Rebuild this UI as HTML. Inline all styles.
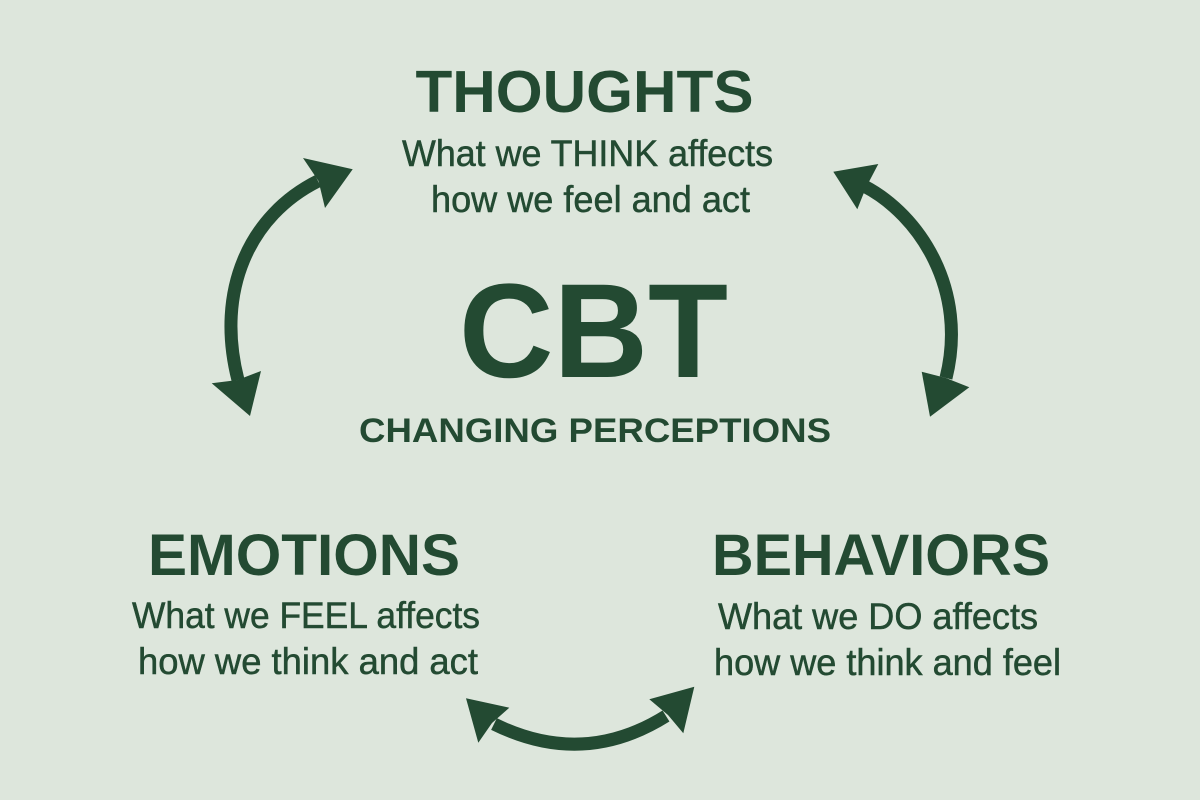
<!DOCTYPE html>
<html>
<head>
<meta charset="utf-8">
<style>
  html, body { margin:0; padding:0; background:#dde6dc; }
  body { width:1200px; height:800px; overflow:hidden; }
  svg { display:block; }
  .b { font-family:"Liberation Sans", Arial, sans-serif; font-weight:bold; fill:#234a32; }
  .r { font-family:"Liberation Sans", Arial, sans-serif; font-weight:normal; fill:#234a32; stroke:#234a32; stroke-width:0.5; }
</style>
</head>
<body>
<svg width="1200" height="800" viewBox="0 0 1200 800" xmlns="http://www.w3.org/2000/svg">
  <rect width="1200" height="800" fill="#dde6dc"/>

  <!-- THOUGHTS -->
  <text class="b" x="415.5" y="112" font-size="59" textLength="338" lengthAdjust="spacingAndGlyphs">THOUGHTS</text>
  <text class="r" x="402" y="166" font-size="37" textLength="371" lengthAdjust="spacingAndGlyphs">What we THINK affects</text>
  <text class="r" x="431" y="212" font-size="37" textLength="319" lengthAdjust="spacingAndGlyphs">how we feel and act</text>

  <!-- CBT -->
  <text class="b" x="459" y="377" font-size="134" textLength="269" lengthAdjust="spacingAndGlyphs">CBT</text>
  <text class="b" x="359" y="442" font-size="34" textLength="472" lengthAdjust="spacingAndGlyphs">CHANGING PERCEPTIONS</text>

  <!-- EMOTIONS -->
  <text class="b" x="148" y="575" font-size="58" textLength="312" lengthAdjust="spacingAndGlyphs">EMOTIONS</text>
  <text class="r" x="132" y="628" font-size="37" textLength="348" lengthAdjust="spacingAndGlyphs">What we FEEL affects</text>
  <text class="r" x="138" y="674" font-size="37" textLength="340" lengthAdjust="spacingAndGlyphs">how we think and act</text>

  <!-- BEHAVIORS -->
  <text class="b" x="712" y="575" font-size="58" textLength="338" lengthAdjust="spacingAndGlyphs">BEHAVIORS</text>
  <text class="r" x="718" y="629" font-size="37" textLength="320" lengthAdjust="spacingAndGlyphs">What we DO affects</text>
  <text class="r" x="714" y="675" font-size="37" textLength="347" lengthAdjust="spacingAndGlyphs">how we think and feel</text>

  <!-- Left arrow (Thoughts <-> Emotions) -->
  <path d="M 318 181 C 250 215 215 290 238 380" fill="none" stroke="#234a32" stroke-width="13"/>
  <polygon points="352.7,169.3 303,158 318.5,181 325,208" fill="#234a32"/>
  <polygon points="250,416 211.7,383.3 237.5,380 261,371" fill="#234a32"/>

  <!-- Right arrow (Thoughts <-> Behaviors) -->
  <path d="M 864 186 C 920 215 968 290 946 378" fill="none" stroke="#234a32" stroke-width="13"/>
  <polygon points="833.3,171.7 878.3,164 866,187.5 857.3,209.3" fill="#234a32"/>
  <polygon points="930,416.7 921.7,371.7 946,378 969.3,387.3" fill="#234a32"/>

  <!-- Bottom arrow (Emotions <-> Behaviors) -->
  <path d="M 494 724 Q 583 768 666 716" fill="none" stroke="#234a32" stroke-width="13"/>
  <polygon points="466,698.3 509.3,707.7 492,723 478.3,742.7" fill="#234a32"/>
  <polygon points="694.3,686.7 649.3,699.3 668,715 683.3,733.3" fill="#234a32"/>
</svg>
</body>
</html>
